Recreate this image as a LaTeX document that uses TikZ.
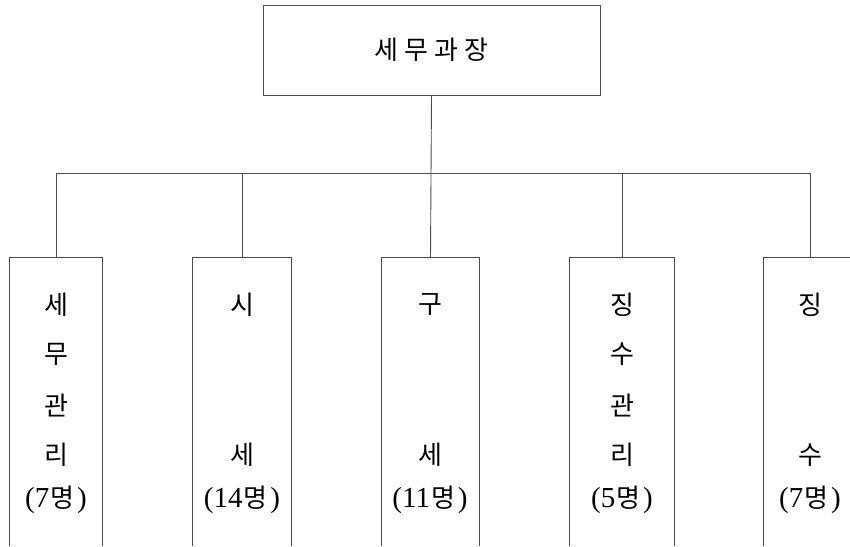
\documentclass[tikz,border=0pt]{standalone}
\usepackage{fontspec}
\setmainfont{Liberation Serif}
\newfontfamily\kr{Noto Sans CJK KR}
\usepackage{tikz}
\usetikzlibrary{positioning}
\tikzstyle{line}=[draw=black!70, line width=0.9pt]
\tikzstyle{txt}=[font=\fontsize{26}{28}\selectfont\kr]
\tikzstyle{head}=[line, txt, rectangle, minimum width=337pt, minimum height=90pt]
\tikzstyle{unit}=[rectangle, anchor=north, minimum height=289pt]
\def\nm#1{{\rmfamily\fontsize{29}{30}\selectfont(#1}\kern1pt 명\kern3pt{\rmfamily\fontsize{29}{30}\selectfont)}}

\begin{document}
\begin{tikzpicture}[x=1pt, y=-1pt]
		\useasboundingbox (0,0) rectangle (850,546);
		\node[head] (chief) at (431.5,50) {세\kern6pt 무\kern6pt 과\kern6pt 장};
		\node[unit, minimum width=92pt] (b1) at (56,257) {};
		\node[unit, minimum width=98pt] (b2) at (242,257) {};
		\node[unit, minimum width=97pt] (b3) at (430.5,257) {};
		\node[unit, minimum width=104pt] (b4) at (622,257) {};
		\node[unit, minimum width=92pt] (b5) at (810,257) {};
		\draw[line] (b1.south west) |- (b1.north east) -- (b1.south east);
		\draw[line] (b2.south west) |- (b2.north east) -- (b2.south east);
		\draw[line] (b3.south west) |- (b3.north east) -- (b3.south east);
		\draw[line] (b4.south west) |- (b4.north east) -- (b4.south east);
		\draw[line] (b5.south west) |- (b5.north east) -- (b5.south east);
		% connectors
		\coordinate (bus) at (430,173);
		\draw[line] (chief.south) -- (b3.north);
		\draw[line] (b1.north) -- (b1.north |- bus) -| (b5.north);
		\draw[line] (b2.north) -- (b2.north |- bus);
		\draw[line] (b4.north) -- (b4.north |- bus);
		% texts
		\node[txt] (t11) at (56,305) {세};
		\node[txt] (t12) at (56,354) {무};
		\node[txt] (t13) at (56,405) {관};
		\node[txt] (t14) at (56,455) {리};
		\node[txt] (t15) at (56,500) {\nm{7}};
		\node[txt] (t21) at (242,305) {시};
		\node[txt] (t24) at (242,455) {세};
		\node[txt] (t25) at (242,500) {\nm{14}};
		\node[txt] (t31) at (430,305) {구};
		\node[txt] (t34) at (430,455) {세};
		\node[txt] (t35) at (430,500) {\nm{11}};
		\node[txt] (t41) at (622,305) {징};
		\node[txt] (t42) at (622,354) {수};
		\node[txt] (t43) at (622,405) {관};
		\node[txt] (t44) at (622,455) {리};
		\node[txt] (t45) at (622,500) {\nm{5}};
		\node[txt] (t51) at (810,305) {징};
		\node[txt] (t54) at (810,455) {수};
		\node[txt] (t55) at (810,500) {\nm{7}};
	\end{tikzpicture}
\end{document}
